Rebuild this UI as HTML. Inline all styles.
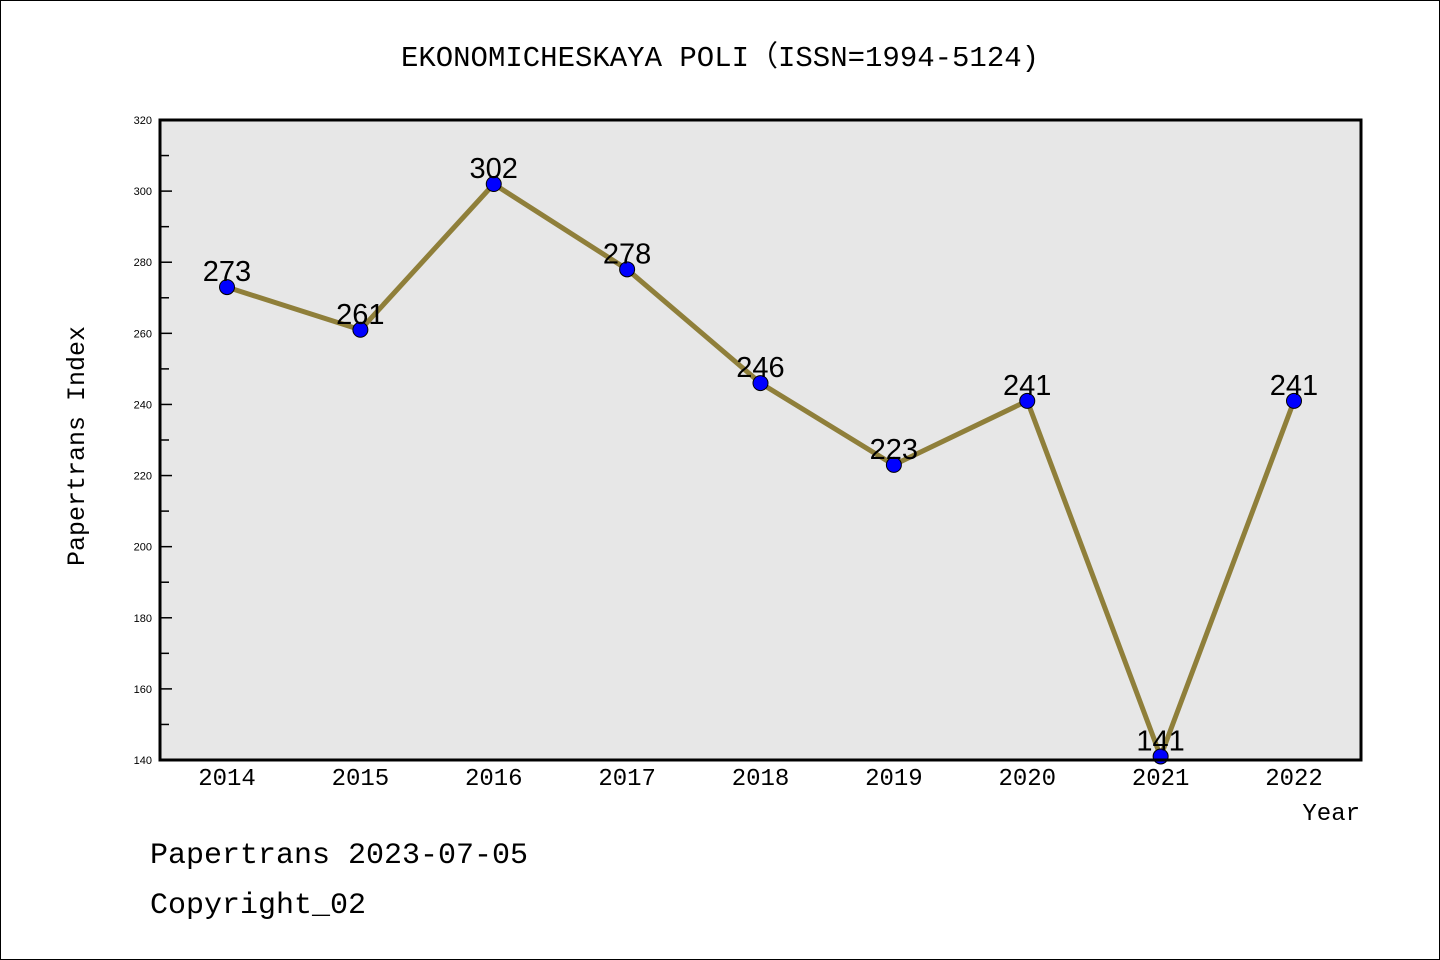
<!DOCTYPE html>
<html><head><meta charset="utf-8"><style>
html,body{margin:0;padding:0;background:#fff}
svg{display:block}
text{font-family:"Liberation Mono","WenQuanYi Zen Hei",monospace}
.s{font-family:"Liberation Sans",sans-serif}
</style></head><body>
<svg id="c" width="1440" height="960">
<rect x="0.5" y="0.5" width="1439" height="959" fill="#fff" stroke="#000"/>
<text x="720" y="66" font-size="29" text-anchor="middle">EKONOMICHESKAYA POLI（ISSN=1994-5124)</text>
<rect x="160" y="120" width="1201" height="640" fill="#e7e7e7"/>
<g id="ax"></g>
<g id="marks"></g>
<rect x="160" y="120" width="1201" height="640" fill="none" stroke="#000" stroke-width="3"/>
<text x="84" y="446" font-size="25" text-anchor="middle" transform="rotate(-90 84 446)">Papertrans Index</text>
<text x="1360" y="820" font-size="24" text-anchor="end">Year</text>
<text x="150" y="863" font-size="30">Papertrans 2023-07-05</text>
<text x="150" y="913" font-size="30">Copyright_02</text>
</svg>
<script>
const years=[2014,2015,2016,2017,2018,2019,2020,2021,2022];
const values=[273,261,302,278,246,223,241,141,241];
const yTicks=[140,160,180,200,220,240,260,280,300,320];
const NS="http://www.w3.org/2000/svg";
const X0=227,DX=(1294-227)/8,Y0=760,Y1=120,VMIN=140,VMAX=320;
const xs=i=>X0+i*DX;
const ys=v=>Y0-(v-VMIN)/(VMAX-VMIN)*(Y0-Y1);
function mk(t,a,p){const e=document.createElementNS(NS,t);for(const k in a)e.setAttribute(k,a[k]);(p||document.getElementById('ax')).appendChild(e);return e;}
yTicks.forEach((v,i)=>{
  const y=ys(v);
  const t=mk('text',{x:152,y:y+4,'font-size':11,'text-anchor':'end','class':'s'});t.textContent=v;
  
  
  if(i>0&&i<yTicks.length-1){const l=mk('line',{x1:160,x2:172,y1:y,y2:y,stroke:'#000','stroke-width':1.5});
  
  }
  if(i<yTicks.length-1){const m=ys(v+10);const l=mk('line',{x1:160,x2:169,y1:m,y2:m,stroke:'#000','stroke-width':1.5});
  
  }
});
years.forEach((yr,i)=>{
  const t=mk('text',{x:xs(i),y:785,'font-size':24,'text-anchor':'middle'});t.textContent=yr;
  
  
});
const g=document.getElementById('marks');
const pl=mk('polyline',{points:values.map((v,i)=>xs(i)+','+ys(v)).join(' '),fill:'none',stroke:'#8f7f3a','stroke-width':5,'stroke-linejoin':'round'},g);


values.forEach((v,i)=>{
  const c=mk('circle',{cx:xs(i),cy:ys(v),r:7.5,fill:'#0000ff',stroke:'#000','stroke-width':1},g);
  
  
  const t=mk('text',{x:xs(i),y:ys(v)-6,'font-size':29,'text-anchor':'middle',fill:'#000','class':'s'},g);
  t.textContent=v;
  
  
});
</script>
</body></html>
